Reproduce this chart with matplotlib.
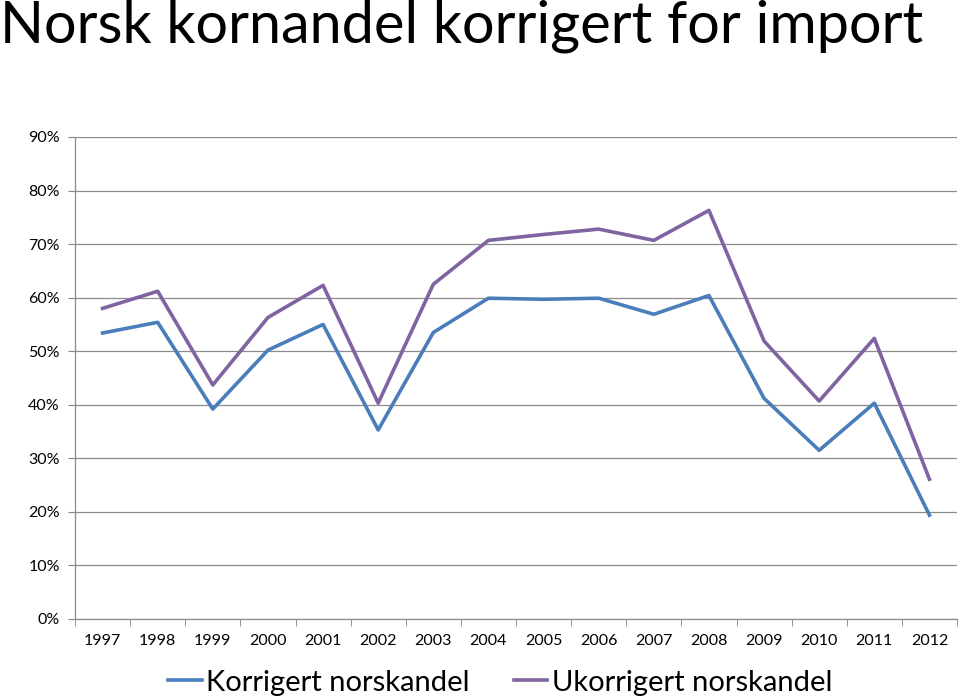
import matplotlib
matplotlib.use("Agg")
import matplotlib.pyplot as plt
import numpy as np

plt.rcParams['font.family'] = ['Lato', 'DejaVu Sans']

years = ['1997', '1998', '1999', '2000', '2001', '2002', '2003', '2004',
         '2005', '2006', '2007', '2008', '2009', '2010', '2011', '2012']
korrigert = [53.4, 55.4, 39.2, 50.2, 55.0, 35.3, 53.5, 59.9,
             59.7, 59.9, 56.9, 60.4, 41.2, 31.5, 40.3, 19.4]
ukorrigert = [58.0, 61.2, 43.7, 56.3, 62.3, 40.3, 62.5, 70.7,
              71.8, 72.8, 70.7, 76.3, 51.9, 40.7, 52.4, 26.1]

fig = plt.figure(figsize=(9.6, 6.98), dpi=100)
ax = fig.add_axes([75/960, 1 - 619/698, 882/960, (619 - 137)/698])

x = np.arange(len(years))
ax.plot(x, korrigert, color='#4A7EBB', lw=2.6, label='Korrigert norskandel')
ax.plot(x, ukorrigert, color='#8064A2', lw=2.6, label='Ukorrigert norskandel')

ax.set_xlim(-0.5, len(years) - 0.5)
ax.set_ylim(0, 90)
ax.set_yticks(np.arange(0, 91, 10))
ax.set_yticklabels([f'{v}%' for v in range(0, 91, 10)], fontsize=11.5)
ax.set_xticks(x)
ax.set_xticklabels(years, fontsize=11.5)
ax.set_xticks(np.arange(-0.5, len(years), 1), minor=True)
ax.tick_params(axis='x', which='major', length=0, pad=11)
ax.tick_params(axis='x', which='minor', length=5, color='#868686')
ax.tick_params(axis='y', length=5, color='#868686', pad=6)

ax.grid(axis='y', color='#8c8c8c', lw=0.9)
ax.set_axisbelow(True)
for s in ['top', 'right']:
    ax.spines[s].set_visible(False)
for s in ['left', 'bottom']:
    ax.spines[s].set_color('#8c8c8c')
    ax.spines[s].set_linewidth(0.9)

fig.text(0.0, 0.962, 'Norsk kornandel korrigert for import', fontsize=41.5,
         va='center', ha='left')

fig.legend(loc='center', bbox_to_anchor=(0.521, 0.022), ncol=2, frameon=False,
           fontsize=21, handlelength=1.15, handletextpad=0.15, columnspacing=1.5)

fig.savefig('out.png', dpi=100)
